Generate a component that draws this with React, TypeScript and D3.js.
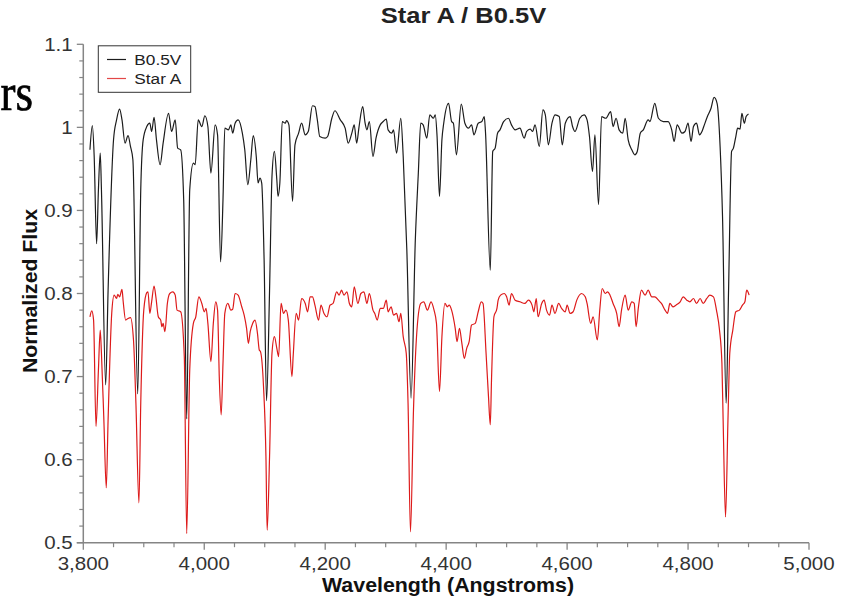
import React from "react";
import * as d3 from "d3";

const b05vWave = [3811,3815,3818,3822,3825,3828,3830,3837,3841,3850,3855,3860,3864,3869,3874,3878,3882,3890,3895,3899,3905,3910,3913,3917,3921,3927,3932,3941,3946,3952,3956,3961,3966,3971,3976,3982,3985,3990,3996,4001,4006,4011,4018,4022,4027,4031,4034,4040,4044,4047,4051,4056,4063,4067,4072,4077,4081,4086,4089,4092,4095,4099,4103,4108,4112,4116,4120,4122,4125,4129,4134,4136,4140,4146,4150,4156,4161,4167,4172,4179,4183,4187,4191,4200,4204,4211,4216,4225,4233,4238,4244,4248,4252,4256,4262,4266,4269,4273,4279,4284,4291,4296,4301,4304,4310,4313,4318,4325,4329,4335,4342,4349,4354,4358,4362,4368,4373,4379,4382,4385,4389,4393,4396,4404,4409,4412,4417,4425,4431,4437,4442,4446,4453,4459,4463,4465,4473,4477,4481,4485,4489,4495,4503,4508,4514,4522,4529,4533,4539,4543,4547,4554,4560,4564,4569,4575,4580,4587,4592,4597,4605,4609,4613,4621,4628,4633,4637,4642,4646,4652,4657,4664,4672,4676,4681,4686,4692,4696,4701,4707,4712,4716,4721,4726,4734,4737,4745,4751,4759,4767,4773,4777,4782,4790,4795,4800,4805,4809,4814,4819,4823,4826,4832,4838,4843,4848,4853,4857,4863,4867,4872,4875,4879,4882,4886,4889,4893,4896,4900];
const b05vFlux = [0.973,1.002,0.965,0.860,0.925,0.969,0.925,0.690,0.804,0.985,1.009,1.022,1.009,0.981,0.990,0.977,0.961,0.679,0.925,0.985,1.001,1.005,0.995,1.012,0.985,0.955,0.981,1.017,0.995,1.009,0.975,0.973,0.913,0.649,0.925,0.957,0.955,1.009,1.001,1.014,1.001,0.945,1.003,0.991,0.838,0.913,0.999,0.997,1.003,0.993,1.005,1.009,0.993,0.973,0.931,0.961,0.990,0.965,0.933,0.939,0.933,0.840,0.671,0.804,0.941,0.971,0.937,0.917,0.933,1.007,1.005,1.008,1.003,0.911,0.979,0.993,1.005,0.991,0.995,1.026,1.025,1.009,0.989,0.987,0.989,1.011,1.020,1.009,0.999,0.981,0.993,1.003,0.981,1.001,1.025,1.005,0.997,1.007,0.965,0.987,1.003,1.007,1.010,0.997,0.993,0.997,0.969,1.011,0.965,0.852,0.674,0.864,0.945,1.005,1.003,0.987,1.015,1.011,1.015,0.989,0.917,0.985,1.005,1.029,1.007,1.005,0.967,1.028,1.005,0.999,1.003,0.991,1.005,1.007,1.013,0.995,0.828,0.971,0.975,0.993,0.997,1.007,1.011,1.003,0.997,0.999,0.987,0.995,0.998,0.995,1.003,0.977,1.021,1.015,0.979,1.005,1.015,1.013,0.979,1.005,1.013,1.001,0.995,1.011,1.015,1.009,0.989,0.947,0.991,0.907,1.013,1.011,1.019,1.001,1.011,0.997,0.993,1.011,0.985,0.973,0.967,0.971,0.993,0.997,1.009,1.007,1.029,1.011,1.007,1.007,0.997,0.983,1.003,0.993,0.995,1.005,0.983,1.001,1.005,0.991,0.995,1.001,1.013,1.023,1.036,1.029,0.977,0.893,0.668,0.804,0.971,0.975,0.989,0.999,0.998,1.017,1.005,1.013,1.016];

const starAWave = [3811,3814,3817,3821,3825,3828,3830,3834,3838,3841,3847,3851,3855,3857,3860,3864,3866,3870,3874,3878,3883,3887,3892,3895,3900,3905,3907,3910,3913,3917,3920,3924,3928,3930,3932,3935,3939,3943,3948,3952,3955,3961,3967,3971,3976,3982,3986,3991,3996,4000,4003,4006,4011,4015,4019,4022,4025,4028,4031,4034,4039,4044,4047,4051,4056,4062,4066,4070,4073,4076,4080,4084,4088,4091,4093,4098,4102,4104,4108,4112,4116,4120,4123,4127,4131,4135,4139,4145,4147,4152,4156,4161,4167,4171,4175,4179,4183,4189,4193,4198,4203,4208,4213,4219,4223,4227,4231,4236,4240,4244,4248,4254,4259,4264,4269,4273,4279,4282,4286,4291,4296,4301,4304,4309,4313,4318,4322,4325,4329,4334,4337,4341,4346,4351,4358,4363,4369,4375,4380,4384,4389,4393,4398,4402,4405,4409,4415,4418,4422,4426,4430,4434,4438,4442,4448,4453,4458,4461,4466,4470,4473,4475,4479,4484,4486,4490,4496,4500,4504,4508,4514,4522,4530,4536,4542,4545,4549,4552,4558,4562,4566,4571,4575,4580,4586,4591,4597,4600,4605,4610,4616,4624,4630,4633,4639,4643,4650,4654,4658,4663,4667,4671,4676,4682,4686,4690,4696,4701,4707,4711,4714,4718,4723,4729,4734,4740,4745,4751,4756,4762,4766,4770,4775,4780,4787,4792,4798,4803,4809,4814,4820,4825,4831,4836,4842,4847,4852,4856,4858,4862,4866,4869,4874,4879,4885,4890,4894,4897,4901];
const starAFlux = [0.772,0.779,0.768,0.640,0.708,0.756,0.728,0.648,0.566,0.648,0.776,0.798,0.794,0.799,0.796,0.805,0.790,0.768,0.770,0.771,0.744,0.668,0.548,0.668,0.780,0.801,0.802,0.776,0.790,0.809,0.796,0.772,0.768,0.760,0.764,0.754,0.788,0.800,0.802,0.798,0.780,0.778,0.724,0.511,0.708,0.764,0.772,0.796,0.788,0.778,0.782,0.764,0.718,0.764,0.790,0.780,0.696,0.654,0.716,0.776,0.788,0.780,0.781,0.800,0.798,0.784,0.774,0.758,0.740,0.754,0.764,0.768,0.752,0.732,0.730,0.688,0.604,0.515,0.604,0.728,0.748,0.734,0.724,0.788,0.776,0.780,0.768,0.700,0.724,0.776,0.768,0.794,0.788,0.778,0.796,0.796,0.786,0.768,0.786,0.776,0.772,0.786,0.788,0.802,0.798,0.804,0.798,0.802,0.788,0.784,0.808,0.788,0.800,0.802,0.788,0.800,0.780,0.776,0.768,0.782,0.782,0.792,0.778,0.784,0.774,0.776,0.766,0.776,0.748,0.728,0.668,0.513,0.660,0.748,0.788,0.790,0.780,0.790,0.780,0.764,0.682,0.748,0.788,0.784,0.786,0.780,0.758,0.742,0.758,0.740,0.722,0.734,0.742,0.762,0.764,0.778,0.790,0.788,0.728,0.676,0.642,0.696,0.772,0.782,0.792,0.798,0.800,0.796,0.786,0.800,0.792,0.790,0.788,0.792,0.786,0.778,0.794,0.772,0.788,0.792,0.780,0.774,0.786,0.776,0.788,0.782,0.778,0.786,0.776,0.778,0.792,0.800,0.796,0.788,0.764,0.772,0.744,0.780,0.806,0.800,0.802,0.798,0.788,0.776,0.760,0.780,0.798,0.780,0.790,0.788,0.760,0.784,0.804,0.798,0.804,0.796,0.796,0.792,0.788,0.780,0.776,0.788,0.784,0.786,0.790,0.796,0.792,0.790,0.794,0.788,0.794,0.788,0.794,0.798,0.796,0.780,0.756,0.716,0.648,0.531,0.648,0.728,0.756,0.778,0.780,0.786,0.790,0.804,0.798];

const seriesNames = ["B0.5V", "Star A"];
const xTickValues = [3800, 4000, 4200, 4400, 4600, 4800, 5000];
const yTickValues = [0.5, 0.6, 0.7, 0.8, 0.9, 1.0, 1.1];
const chartTitle = "Star A / B0.5V";
const xTitle = "Wavelength (Angstroms)";
const yTitle = "Normalized Flux";
const backgroundText = "rs";

const FONT = "'Liberation Sans', Arial, sans-serif";
const AXIS = "#858585";
const COLORS = ["#1c1c1c", "#dd1a1a"];

export default function App() {
  const x = d3.scaleLinear().domain([3800, 5000]).range([83.3, 809]);
  const y = d3.scaleLinear().domain([0.5, 1.1]).range([542.7, 44.3]);
  const line = d3
    .line<[number, number]>()
    .x((d) => x(d[0]))
    .y((d) => y(d[1]))
    .curve(d3.curveMonotoneX);
  const black = line(b05vWave.map((w, i) => [w, b05vFlux[i]] as [number, number])) || "";
  const red = line(starAWave.map((w, i) => [w, starAFlux[i]] as [number, number])) || "";
  const xMinor = d3.range(3800, 5001, 50).filter((v) => v % 200 !== 0);
  const yMinor = d3.range(0, 31).map((i) => 0.5 + i * 0.02).filter((_, i) => i % 5 !== 0);
  const fmtX = d3.format(",");
  const fmtY = (v: number) => String(Math.round(v * 10) / 10);
  const sx = 1.14;

  return (
    <svg width={841} height={600} style={{ position: "absolute", left: 0, top: 0, background: "#fff" }} fontFamily={FONT}>
      <rect x={0} y={0} width={841} height={600} fill="#fff" />
      <text x={0.5} y={110} fontFamily="'Liberation Serif', 'Times New Roman', serif" fontSize={52} fill="#000" textLength={32.5} lengthAdjust="spacingAndGlyphs" stroke="#000" strokeWidth={0.7}>{backgroundText}</text>
      <text transform={`translate(463.5,23) scale(1.16,1)`} textAnchor="middle" fontSize={22} fontWeight="bold" fill="#222">{chartTitle}</text>

      {/* y axis */}
      <line x1={x(3800)} x2={x(3800)} y1={y(1.1)} y2={y(0.5)} stroke={AXIS} strokeWidth={1.5} />
      {yTickValues.map((v) => (
        <g key={"yt" + v}>
          <line x1={x(3800) - 6.5} x2={x(3800)} y1={y(v)} y2={y(v)} stroke={AXIS} strokeWidth={1.3} />
          <text transform={`translate(72.7,${y(v) + 6.4}) scale(${sx},1)`} textAnchor="end" fontSize={18} fill="#333">{fmtY(v)}</text>
        </g>
      ))}
      {yMinor.map((v) => (
        <line key={"ym" + v} x1={x(3800) - 4} x2={x(3800)} y1={y(v)} y2={y(v)} stroke={AXIS} strokeWidth={1.2} />
      ))}

      {/* x axis */}
      <line x1={x(3800) - 6.5} x2={x(5000)} y1={y(0.5)} y2={y(0.5)} stroke={AXIS} strokeWidth={1.5} />
      {xTickValues.map((v) => (
        <g key={"xt" + v}>
          <line x1={x(v)} x2={x(v)} y1={y(0.5)} y2={y(0.5) + 7} stroke={AXIS} strokeWidth={1.3} />
          <text transform={`translate(${x(v)},570) scale(${sx},1)`} textAnchor="middle" fontSize={18} fill="#333">{fmtX(v)}</text>
        </g>
      ))}
      {xMinor.map((v) => (
        <line key={"xm" + v} x1={x(v)} x2={x(v)} y1={y(0.5)} y2={y(0.5) + 4.5} stroke={AXIS} strokeWidth={1.2} />
      ))}

      <text x={448} y={592} textAnchor="middle" fontSize={20} fontWeight="bold" fill="#111" textLength={252} lengthAdjust="spacingAndGlyphs">{xTitle}</text>
      <text transform="translate(37,291) rotate(-90)" textAnchor="middle" fontSize={19.5} fontWeight="bold" fill="#111" textLength={164} lengthAdjust="spacingAndGlyphs">{yTitle}</text>

      {/* series */}
      <path d={red} fill="none" stroke={COLORS[1]} strokeWidth={1.2} strokeLinejoin="round" />
      <path d={black} fill="none" stroke={COLORS[0]} strokeWidth={1.2} strokeLinejoin="round" />

      {/* legend */}
      <rect x={98.3} y={45.8} width={92.4} height={46.5} fill="#fff" stroke="#333" strokeWidth={1} />
      {seriesNames.map((n, i) => (
        <g key={n}>
          <line x1={107} x2={126} y1={59.5 + i * 19} y2={59.5 + i * 19} stroke={COLORS[i]} strokeWidth={1.2} opacity={i === 1 ? 0.8 : 1} />
          <text transform={`translate(134.3,${65 + i * 19}) scale(1.15,1)`} fontSize={15} fill="#222">{n}</text>
        </g>
      ))}
    </svg>
  );
}
